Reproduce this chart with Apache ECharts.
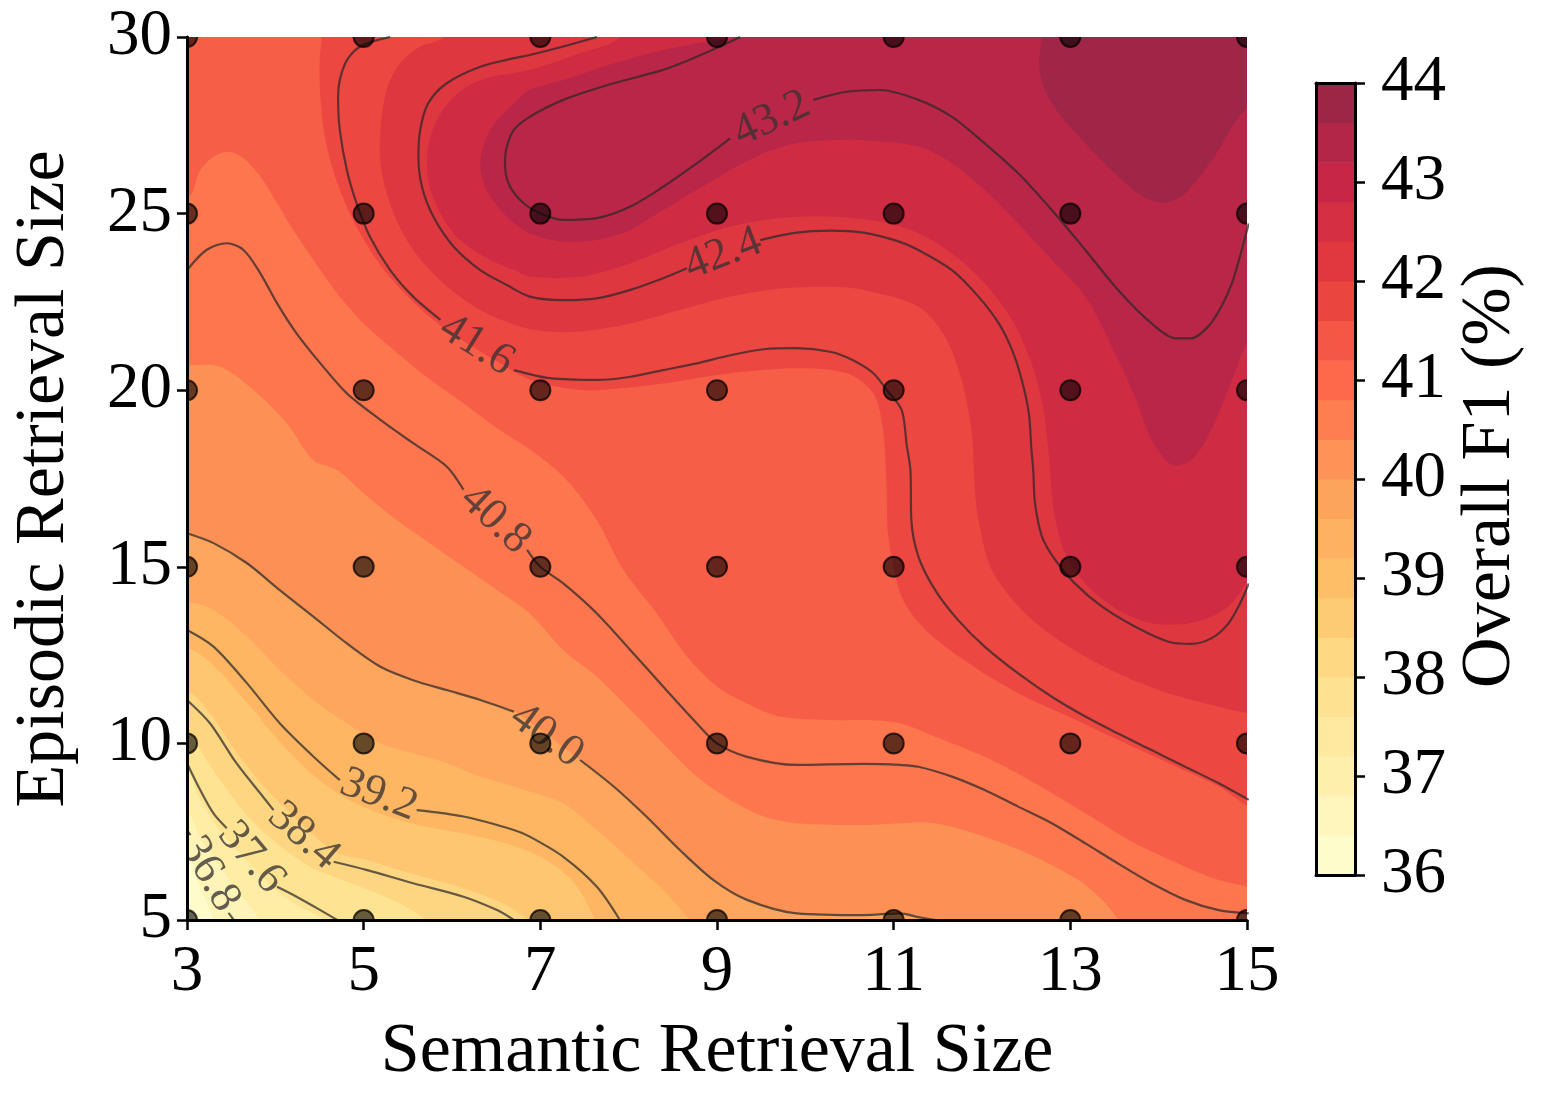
<!DOCTYPE html>
<html>
<head>
<meta charset="utf-8">
<title>Retrieval size sweep</title>
<script src="https://cdn.jsdelivr.net/npm/echarts@6/dist/echarts.min.js"></script>
<style>
  html, body { margin: 0; padding: 0; background: #fff; }
  #chart { width: 1543px; height: 1103px; }
</style>
</head>
<body>
<div id="chart"></div>
<script>
// grid of measured settings (dots)
const X_VALUES = [3, 5, 7, 9, 11, 13, 15];
const Y_VALUES = [5, 10, 15, 20, 25, 30];

// filled bands, each region is "F1 >= level"
const FILL_LEVELS = [36.0, 36.5, 37.0, 37.5, 38.0, 38.5, 39.0, 39.5, 40.0, 40.5, 41.0, 41.5, 42.0, 42.5, 43.0, 43.5];

const REGION_36_0 = [[2, 4], [16, 4], [16, 31], [2, 31]];
const REGION_36_5 = [[2, 31], [2, 6.8], [3, 6.8], [3.12, 6.1], [3.22, 5.5], [3.3, 5.0], [3.32, 4.5], [16, 4], [16, 31]];
const REGION_37_0 = [[2, 31], [2, 8.0], [3, 8.0], [3.15, 7.3], [3.35, 6.6], [3.55, 5.9], [3.82, 5.0], [3.85, 4.5], [16, 4], [16, 31]];
const REGION_37_5 = [[2, 31], [2, 9.2], [3, 9.2], [3.12, 8.55], [3.28, 7.85], [3.45, 7.3], [3.75, 6.5], [4.05, 5.75], [4.3, 5.35], [4.55, 5.0], [4.6, 4.5], [16, 4], [16, 31]];
const REGION_38_0 = [[2, 31], [2, 10.35], [3, 10.33], [3.2, 9.6], [3.45, 8.7], [3.7, 7.9], [4.0, 7.2], [4.4, 6.5], [4.9, 6.0], [5.3, 5.6], [5.7, 5.0], [5.75, 4.5], [16, 4], [16, 31]];
const REGION_38_5 = [[2, 31], [2, 11.5], [3, 11.48], [3.26, 10.85], [3.56, 9.75], [3.86, 8.8], [4.1, 8.2], [4.66, 6.95], [5.03, 6.7], [5.56, 6.3], [6.13, 5.9], [6.55, 5.5], [6.85, 5.0], [6.9, 4.5], [16, 4], [16, 31]];
const REGION_39_0 = [[2, 31], [2, 12.75], [3, 12.7], [3.3, 12.2], [3.68, 11.15], [4.05, 10.05], [4.43, 9.1], [4.8, 8.45], [5.2, 8.0], [5.6, 7.7], [6.13, 7.45], [6.7, 7.1], [7.1, 6.65], [7.4, 6.0], [7.62, 5.0], [7.7, 4.5], [16, 4], [16, 31]];
const REGION_39_5 = [[2, 31], [2, 14.05], [3, 14.01], [3.3, 13.78], [3.68, 13.02], [4.05, 12.08], [4.43, 11.23], [4.81, 10.57], [5.19, 10.0], [5.56, 9.72], [5.94, 9.44], [6.32, 9.06], [6.7, 8.77], [7.26, 8.3], [7.64, 7.55], [8.02, 6.7], [8.39, 5.85], [8.69, 5.0], [8.8, 4.5], [16, 4], [16, 31]];
const REGION_40_0 = [[2, 31], [2, 16.0], [3, 15.95], [3.3, 15.67], [3.68, 15.1], [4.05, 14.34], [4.43, 13.59], [4.81, 12.83], [5.19, 12.17], [5.56, 11.79], [5.94, 11.51], [6.32, 11.23], [6.7, 10.9], [7.07, 10.25], [7.45, 9.53], [7.83, 8.78], [8.2, 7.93], [8.58, 6.98], [8.96, 6.13], [9.34, 5.57], [9.9, 5.19], [10.66, 5.14], [11.07, 5.19], [11.28, 5.08], [11.51, 4.98], [11.8, 4.5], [16, 4], [16, 31]];
const REGION_40_5 = [[2, 31], [2, 20.75], [3, 20.71], [3.37, 20.67], [3.75, 20.01], [4.13, 19.06], [4.43, 18.02], [4.7, 17.74], [5.0, 17.08], [5.37, 16.33], [5.75, 15.66], [6.13, 15.0], [6.51, 14.34], [6.88, 13.68], [7.26, 12.64], [7.64, 11.89], [8.02, 10.95], [8.39, 10.0], [8.77, 9.06], [9.15, 8.4], [9.53, 7.93], [9.9, 7.74], [10.66, 7.69], [11.07, 7.74], [11.47, 7.74], [12.03, 7.36], [12.6, 6.79], [13.09, 6.13], [13.36, 5.57], [13.54, 5.0], [13.65, 4.5], [16, 4], [16, 31]];
const REGION_41_0 = [[2, 31], [2, 25.2], [3.0, 25.45], [3.15, 26.23], [3.3, 26.61], [3.47, 26.75], [3.64, 26.56], [3.83, 26.05], [4.02, 25.29], [4.2, 24.54], [4.43, 23.69], [4.7, 22.74], [5.0, 21.89], [5.34, 21.14], [5.71, 20.38], [6.13, 19.63], [6.54, 18.87], [6.95, 18.2], [7.3, 17.45], [7.64, 16.32], [7.94, 14.91], [8.32, 13.68], [8.66, 12.46], [9.0, 11.61], [9.34, 11.13], [9.71, 10.76], [10.28, 10.66], [10.66, 10.66], [11.07, 10.57], [11.47, 10.19], [12.03, 9.62], [12.6, 8.87], [13.17, 8.02], [13.73, 7.17], [14.3, 6.51], [14.68, 6.13], [15.02, 5.94], [15.5, 5.7], [16, 5.6], [16, 31]];
const REGION_41_5 = [[4.53, 31], [4.525, 30.0], [4.5, 29.25], [4.51, 28.31], [4.56, 27.18], [4.69, 25.95], [4.9, 24.72], [5.2, 23.5], [5.56, 22.5], [5.94, 21.7], [6.39, 21.0], [6.88, 20.3], [7.3, 20.05], [7.64, 20.0], [8.39, 20.19], [9.15, 20.48], [9.9, 20.62], [10.47, 20.48], [10.77, 19.91], [10.88, 18.87], [10.92, 17.17], [10.94, 15.85], [11.09, 14.15], [11.36, 13.21], [11.85, 12.27], [12.41, 11.42], [12.98, 10.76], [13.54, 10.1], [14.11, 9.44], [14.68, 8.78], [15.02, 8.21], [15.5, 7.7], [16, 7.5], [16, 31]];
const REGION_42_0 = [[5.95, 31], [5.9, 30.0], [5.64, 29.73], [5.41, 29.25], [5.26, 28.5], [5.19, 27.37], [5.2, 26.23], [5.34, 25.01], [5.56, 23.97], [5.9, 23.03], [6.32, 22.27], [6.77, 21.8], [7.07, 21.66], [7.45, 21.66], [8.02, 21.89], [8.58, 22.27], [9.15, 22.65], [9.71, 22.88], [10.28, 22.93], [10.66, 22.84], [11.28, 22.37], [11.58, 21.52], [11.77, 20.29], [11.88, 18.87], [11.92, 17.17], [11.96, 16.33], [12.11, 14.91], [12.49, 13.68], [12.98, 12.74], [13.54, 11.98], [14.11, 11.42], [14.68, 11.04], [15.02, 10.85], [15.5, 10.7], [16, 10.7], [16, 31]];
const REGION_42_5 = [[7.95, 31], [7.9, 30.0], [7.45, 29.54], [6.88, 29.07], [6.32, 28.78], [6.02, 28.31], [5.83, 27.65], [5.73, 26.89], [5.73, 25.95], [5.85, 25.1], [6.05, 24.35], [6.36, 23.78], [6.7, 23.4], [6.88, 23.21], [7.45, 23.21], [8.02, 23.59], [8.58, 24.16], [9.15, 24.63], [9.71, 24.87], [10.28, 24.91], [10.85, 24.77], [11.28, 24.44], [11.66, 23.87], [12.03, 23.03], [12.34, 21.99], [12.56, 20.76], [12.69, 19.53], [12.75, 18.31], [12.77, 17.74], [12.81, 16.61], [12.94, 15.38], [13.2, 14.44], [13.54, 13.78], [13.92, 13.4], [14.3, 13.38], [14.6, 13.59], [14.83, 13.97], [15.02, 14.63], [15.3, 15.5], [16, 16], [16, 31]];
const REGION_43_0 = [[9.2, 31], [9.15, 30.0], [8.96, 29.91], [8.39, 29.63], [7.83, 29.25], [7.26, 28.78], [6.88, 28.5], [6.7, 28.12], [6.43, 27.37], [6.32, 26.42], [6.39, 25.67], [6.62, 24.91], [6.88, 24.44], [7.26, 24.21], [7.64, 24.25], [8.02, 24.54], [8.39, 25.1], [8.77, 25.67], [9.15, 26.23], [9.53, 26.71], [9.9, 26.99], [10.28, 27.08], [10.66, 27.08], [11.28, 26.9], [11.66, 26.42], [12.03, 25.67], [12.41, 24.72], [12.79, 23.69], [13.17, 22.65], [13.47, 21.23], [13.73, 19.82], [13.92, 18.59], [14.15, 17.88], [14.37, 18.02], [14.56, 18.69], [14.71, 19.53], [14.86, 20.48], [15.02, 21.42], [15.4, 22.6], [16, 23], [16, 31]];
const REGION_43_5 = [[12.68, 31], [12.68, 30.0], [12.645, 29.25], [12.71, 28.5], [12.9, 27.74], [13.17, 26.99], [13.47, 26.23], [13.77, 25.57], [14.03, 25.31], [14.22, 25.43], [14.37, 25.76], [14.52, 26.23], [14.68, 26.8], [14.83, 27.46], [15.02, 28.03], [15.5, 28.7], [16, 29.2], [16, 31]];

const FILL_REGIONS = [REGION_36_0, REGION_36_5, REGION_37_0, REGION_37_5, REGION_38_0, REGION_38_5,
  REGION_39_0, REGION_39_5, REGION_40_0, REGION_40_5, REGION_41_0, REGION_41_5,
  REGION_42_0, REGION_42_5, REGION_43_0, REGION_43_5];

// contour lines, split where the inline label sits
const CONTOUR_LEVELS = ['36.8', '37.6', '38.4', '39.2', '40.0', '40.8', '41.6', '42.4', '43.2'];
const LINE_36_8 = [[[3.0, 7.55], [3.04, 7.4]], [[3.47, 5.2], [3.53, 5.0]]];
const LINE_37_6 = [[[3.0, 9.44], [3.15, 8.68], [3.3, 8.02], [3.45, 7.6]], [[4.02, 5.94], [4.24, 5.66], [4.51, 5.28], [4.7, 5.0]]];
const LINE_38_4 = [[[3.0, 11.23], [3.26, 10.57], [3.56, 9.44], [3.86, 8.49], [3.98, 8.11]], [[4.66, 6.65], [5.03, 6.42], [5.56, 6.04], [6.13, 5.66], [6.51, 5.28], [6.7, 5.0]]];
const LINE_39_2 = [[[3.0, 13.21], [3.3, 12.74], [3.68, 11.7], [4.05, 10.57], [4.43, 9.63], [4.73, 8.96]], [[5.6, 8.11], [6.13, 7.93], [6.7, 7.55], [6.88, 7.36], [7.26, 6.79], [7.64, 5.94], [7.9, 5.0]]];
const LINE_40_0 = [[[3.0, 15.95], [3.3, 15.67], [3.68, 15.1], [4.05, 14.34], [4.43, 13.59], [4.81, 12.83], [5.19, 12.17], [5.56, 11.79], [5.94, 11.51], [6.32, 11.23], [6.7, 10.9]],
  [[7.45, 9.53], [7.83, 8.78], [8.2, 7.93], [8.58, 6.98], [8.96, 6.13], [9.34, 5.57], [9.9, 5.19], [10.66, 5.14], [11.07, 5.19], [11.28, 5.08], [11.51, 4.98]]];
const LINE_40_8 = [[[3.0, 23.4], [3.22, 23.97], [3.45, 24.16], [3.64, 23.97], [3.83, 23.31], [4.02, 22.46], [4.24, 21.61], [4.51, 20.76], [4.81, 19.91], [5.19, 19.16], [5.56, 18.5], [5.94, 17.84], [6.13, 17.18]],
  [[6.85, 15.48], [7.0, 15.0], [7.26, 14.53], [7.64, 13.68], [8.02, 12.64], [8.39, 11.61], [8.77, 10.57], [9.0, 10.0], [9.34, 9.62], [9.9, 9.39], [10.66, 9.42], [11.07, 9.39], [11.28, 9.34], [11.66, 9.06], [12.03, 8.68], [12.41, 8.21], [12.79, 7.74], [13.17, 7.17], [13.54, 6.6], [13.92, 6.04], [14.3, 5.57], [14.68, 5.28], [15.02, 5.19]]];
const LINE_41_6 = [[[5.3, 30.0], [4.96, 29.73], [4.79, 29.25], [4.71, 28.31], [4.73, 27.37], [4.81, 26.23], [4.92, 25.29], [5.07, 24.35], [5.3, 23.4], [5.56, 22.65], [5.87, 21.99]],
  [[6.7, 20.57], [7.11, 20.34], [7.64, 20.29], [8.02, 20.38], [8.39, 20.57], [8.77, 20.76], [9.15, 20.99], [9.53, 21.16], [9.9, 21.19], [10.28, 21.09], [10.54, 20.85], [10.77, 20.48], [10.92, 20.01], [11.09, 19.44], [11.15, 18.4], [11.19, 17.74], [11.2, 16.33], [11.28, 15.29], [11.47, 14.34], [11.73, 13.49], [12.03, 12.74], [12.41, 11.98], [12.79, 11.32], [13.17, 10.76], [13.54, 10.28], [13.92, 9.81], [14.3, 9.34], [14.68, 8.87], [15.02, 8.4]]];
const LINE_42_4 = [[[7.64, 30.0], [7.26, 29.73], [6.88, 29.49], [6.7, 29.4], [6.32, 29.16], [5.94, 28.69], [5.73, 28.12], [5.64, 27.37], [5.62, 26.61], [5.66, 25.76], [5.79, 24.91], [6.02, 24.06], [6.32, 23.4], [6.62, 22.98], [6.88, 22.65], [7.26, 22.55], [7.64, 22.6], [8.02, 22.84], [8.39, 23.17], [8.66, 23.45]],
  [[9.49, 24.25], [9.9, 24.46], [10.28, 24.52], [10.66, 24.46], [11.07, 24.2], [11.28, 23.97], [11.66, 23.4], [11.96, 22.65], [12.19, 21.89], [12.34, 21.14], [12.45, 20.29], [12.53, 19.35], [12.56, 18.31], [12.58, 17.74], [12.6, 16.8], [12.68, 15.85], [12.83, 15.19], [13.05, 14.53], [13.36, 13.87], [13.73, 13.31], [14.11, 12.88], [14.37, 12.82], [14.6, 12.98], [14.79, 13.4], [14.94, 14.06], [15.02, 14.53]]];
const LINE_43_2 = [[[9.26, 30.0], [9.07, 29.77], [8.77, 29.44], [8.39, 29.07], [7.83, 28.69], [7.26, 28.22], [6.88, 27.74], [6.7, 27.37], [6.62, 26.89], [6.6, 26.42], [6.64, 25.86], [6.77, 25.39], [6.96, 25.05], [7.26, 24.82], [7.64, 24.87], [8.02, 25.2], [8.39, 25.76], [8.77, 26.42], [9.15, 27.13]],
  [[10.09, 28.22], [10.47, 28.45], [10.85, 28.5], [11.28, 28.22], [11.66, 27.74], [12.03, 26.99], [12.41, 26.14], [12.79, 25.1], [13.17, 23.97], [13.54, 22.84], [13.92, 21.89], [14.19, 21.47], [14.37, 21.47], [14.56, 21.8], [14.71, 22.37], [14.83, 23.03], [14.94, 23.97], [15.02, 24.72]]];
const CONTOUR_LINES = [LINE_36_8, LINE_37_6, LINE_38_4, LINE_39_2, LINE_40_0, LINE_40_8, LINE_41_6, LINE_42_4, LINE_43_2];

// where each inline label sits
const LABEL_POS = [[3.255, 6.3], [3.73, 6.77], [4.32, 7.38], [5.17, 8.54], [7.07, 10.22], [6.49, 16.33], [6.28, 21.28], [9.07, 23.85], [9.62, 27.68]];

// colour bar
const CBAR_EDGES = [36.0, 36.4, 36.8, 37.2, 37.6, 38.0, 38.4, 38.8, 39.2, 39.6, 40.0, 40.4, 40.8, 41.2, 41.6, 42.0, 42.4, 42.8, 43.2, 43.6, 44.0];

// ---- styles ----
const FILL_COLORS = ['#fffbca', '#fff4b8', '#ffeca5', '#fee393', '#fed682', '#fec670', '#feb663', '#fea65d',
  '#fd9155', '#fd764e', '#f75e47', '#ec4741', '#df3740', '#cf2c44', '#ba2647', '#a02647'];
const CBAR_COLORS = ['#fffccc', '#fff6bd', '#fff0ae', '#ffe9a0', '#fee292', '#fed883', '#fecb75', '#febe67', '#feb161', '#fda45c',
  '#fd9356', '#fd7e50', '#fd694a', '#f45745', '#eb4540', '#e1383f', '#d42f43', '#c72647', '#b22647', '#9d2647'];
const LABEL_ANGLE = [-60, -50, -41, -21, -36, -43, -32, 21, 25];
const SERIF = '"Liberation Serif", "Times New Roman", serif';
const LINE_COLOR = 'rgba(40,40,40,0.72)';
const LABEL_COLOR = 'rgba(55,50,50,0.78)';

const chart = echarts.init(document.getElementById('chart'), null, { renderer: 'canvas' });

const series = [];

series.push({
  type: 'custom',
  xAxisIndex: 0,
  yAxisIndex: 0,
  clip: true,
  silent: true,
  z: 1,
  data: FILL_LEVELS.map((lv, i) => [i, lv]),
  renderItem: function (params, api) {
    const pts = FILL_REGIONS[params.dataIndex].map(p => api.coord(p));
    return {
      type: 'polygon',
      shape: { points: pts, smooth: 0.3 },
      style: { fill: FILL_COLORS[params.dataIndex], stroke: null }
    };
  }
});

CONTOUR_LINES.forEach(function (segments) {
  segments.forEach(function (seg) {
    series.push({
      type: 'line',
      xAxisIndex: 0,
      yAxisIndex: 0,
      data: seg,
      smooth: 0.3,
      symbol: 'none',
      silent: true,
      clip: true,
      z: 2,
      lineStyle: { color: LINE_COLOR, width: 2.2 }
    });
  });
});

series.push({
  type: 'custom',
  xAxisIndex: 0,
  yAxisIndex: 0,
  clip: true,
  silent: true,
  z: 3,
  data: LABEL_POS,
  renderItem: function (params, api) {
    const p = api.coord(LABEL_POS[params.dataIndex]);
    return {
      type: 'text',
      x: p[0],
      y: p[1],
      rotation: LABEL_ANGLE[params.dataIndex] * Math.PI / 180,
      style: {
        text: CONTOUR_LEVELS[params.dataIndex],
        font: '45px ' + SERIF,
        fill: LABEL_COLOR,
        align: 'center', textAlign: 'center',
        verticalAlign: 'middle', textVerticalAlign: 'middle'
      }
    };
  }
});

const dots = [];
Y_VALUES.forEach(y => X_VALUES.forEach(x => dots.push([x, y])));
series.push({
  type: 'custom',
  xAxisIndex: 0,
  yAxisIndex: 0,
  clip: true,
  silent: true,
  z: 4,
  data: dots,
  renderItem: function (params, api) {
    const p = api.coord([api.value(0), api.value(1)]);
    return {
      type: 'circle',
      shape: { cx: p[0], cy: p[1], r: 10 },
      style: { fill: 'rgba(0,0,0,0.6)', stroke: 'rgba(0,0,0,0.75)', lineWidth: 2 }
    };
  }
});

series.push({
  type: 'custom',
  xAxisIndex: 1,
  yAxisIndex: 1,
  silent: true,
  z: 1,
  data: CBAR_COLORS.map((c, i) => [CBAR_EDGES[i], CBAR_EDGES[i + 1]]),
  renderItem: function (params, api) {
    const lo = api.coord([0, api.value(0)]);
    const hi = api.coord([1, api.value(1)]);
    return {
      type: 'rect',
      shape: { x: lo[0], y: hi[1], width: hi[0] - lo[0], height: lo[1] - hi[1] + 0.5 },
      style: { fill: CBAR_COLORS[params.dataIndex], stroke: null }
    };
  }
});

const tickLabel = { color: '#000', fontFamily: SERIF, fontSize: 65 };
const blackLine = { show: true, onZero: false, lineStyle: { color: '#000', width: 3 } };

const option = {
  animation: false,
  backgroundColor: '#fff',
  textStyle: { fontFamily: SERIF },
  grid: [
    { left: 187, top: 37, right: 296, bottom: 183, containLabel: false, outerBoundsMode: 'none' },
    { left: 1316, top: 83, width: 39, height: 792, containLabel: false, outerBoundsMode: 'none' }
  ],
  xAxis: [
    {
      gridIndex: 0, type: 'value', min: 3, max: 15, interval: 2, z: 10,
      axisLine: blackLine,
      axisTick: { show: true, inside: false, length: 10, lineStyle: { color: '#000', width: 2.5 } },
      axisLabel: Object.assign({ margin: 20 }, tickLabel),
      splitLine: { show: false }
    },
    {
      gridIndex: 1, type: 'value', min: 0, max: 1, position: 'bottom', z: 10,
      axisLine: blackLine, axisTick: { show: false }, axisLabel: { show: false }, splitLine: { show: false }
    },
    {
      gridIndex: 1, type: 'value', min: 0, max: 1, position: 'top', z: 10,
      axisLine: blackLine, axisTick: { show: false }, axisLabel: { show: false }, splitLine: { show: false }
    }
  ],
  yAxis: [
    {
      gridIndex: 0, type: 'value', min: 5, max: 30, interval: 5, z: 10,
      axisLine: blackLine,
      axisTick: { show: true, inside: false, length: 10, lineStyle: { color: '#000', width: 2.5 } },
      axisLabel: Object.assign({ margin: 15 }, tickLabel),
      splitLine: { show: false }
    },
    {
      gridIndex: 1, type: 'value', min: 36, max: 44, interval: 1, position: 'right', z: 10,
      axisLine: blackLine,
      axisTick: { show: true, inside: false, length: 10, lineStyle: { color: '#000', width: 2.5 } },
      axisLabel: Object.assign({ margin: 26 }, tickLabel),
      splitLine: { show: false }
    },
    {
      gridIndex: 1, type: 'value', min: 36, max: 44, position: 'left', z: 10,
      axisLine: blackLine, axisTick: { show: false }, axisLabel: { show: false }, splitLine: { show: false }
    }
  ],
  graphic: [
    {
      type: 'text', x: 717, y: 1053, silent: true,
      style: { text: 'Semantic Retrieval Size', font: '70px ' + SERIF, fill: '#000',
        align: 'center', textAlign: 'center', verticalAlign: 'middle', textVerticalAlign: 'middle' }
    },
    {
      type: 'text', x: 45, y: 479, rotation: Math.PI / 2, silent: true,
      style: { text: 'Episodic Retrieval Size', font: '70px ' + SERIF, fill: '#000',
        align: 'center', textAlign: 'center', verticalAlign: 'middle', textVerticalAlign: 'middle' }
    },
    {
      type: 'text', x: 1491, y: 476, rotation: Math.PI / 2, silent: true,
      style: { text: 'Overall F1 (%)', font: '70px ' + SERIF, fill: '#000',
        align: 'center', textAlign: 'center', verticalAlign: 'middle', textVerticalAlign: 'middle' }
    }
  ],
  series: series
};

chart.setOption(option);
window.addEventListener('resize', () => {
  chart.resize();
});
</script>
</body>
</html>
